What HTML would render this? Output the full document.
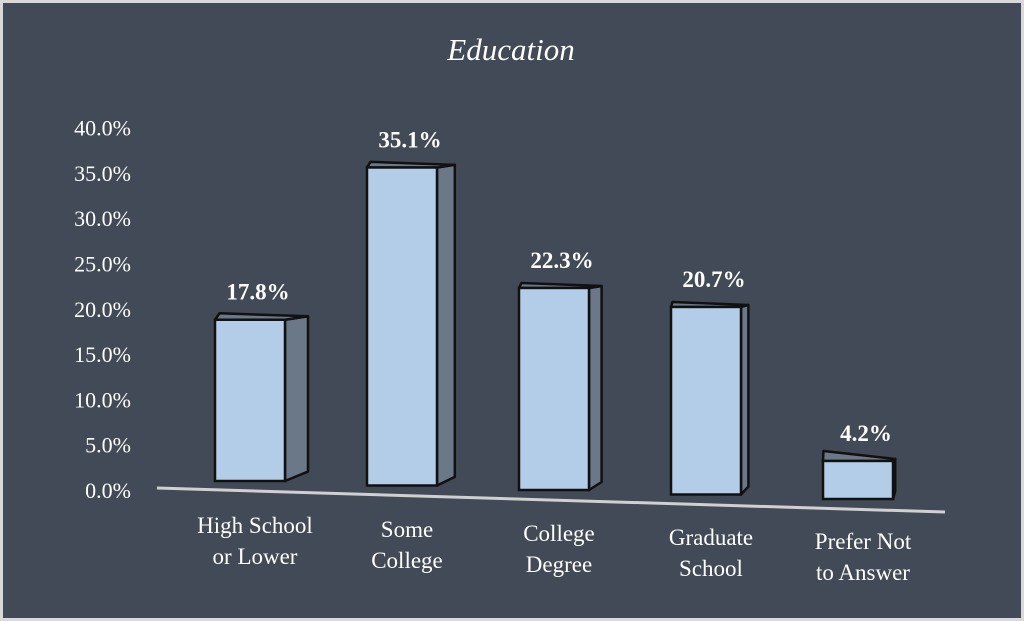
<!DOCTYPE html>
<html><head><meta charset="utf-8"><style>
html,body{margin:0;padding:0;background:#d9d9d9;}
svg{display:block;}
text{font-family:"Liberation Serif",serif;fill:#fff;}
</style></head><body>
<svg width="1024" height="621" viewBox="0 0 1024 621">
<rect x="3" y="3" width="1018" height="615" fill="#414a56"/>
<text x="511" y="60" font-size="31" font-style="italic" text-anchor="middle">Education</text>
<line x1="157" y1="488" x2="945" y2="512" stroke="#d0d0d0" stroke-width="3"/>
<g id="yaxis"></g>
<g id="bars"></g>
<g id="xaxis"></g>
</svg>
<script>
const categories = [["High School","or Lower"],["Some","College"],["College","Degree"],["Graduate","School"],["Prefer Not","to Answer"]];
const values = [17.8, 35.1, 22.3, 20.7, 4.2];
const valueLabels = ["17.8%","35.1%","22.3%","20.7%","4.2%"];
const ticks = [0,5,10,15,20,25,30,35,40];
const tickLabels = ["0.0%","5.0%","10.0%","15.0%","20.0%","25.0%","30.0%","35.0%","40.0%"];

const NS="http://www.w3.org/2000/svg";
const pxPer = 9.06;
function yTick(v){ return 490 - v*pxPer; }
function barBottom(i){ return 481 + i*4.5; }
function barLeft(i){ return 215 + i*152; }
function depth(i){ return 23 - i*5.2; }
function mk(tag,attrs,parent){const e=document.createElementNS(NS,tag);for(const k in attrs)e.setAttribute(k,attrs[k]);parent.appendChild(e);return e;}

const ya=document.getElementById('yaxis');
ticks.forEach((t,i)=>{
  const e=mk('text',{x:131,y:yTick(t)+8,'font-size':22,'text-anchor':'end'},ya);
  
  
  e.textContent=tickLabels[i];
});

const bg=document.getElementById('bars');
const xa=document.getElementById('xaxis');
values.forEach((v,i)=>{
  const x=barLeft(i), w=70, b=barBottom(i), h=v*pxPer, top=b-h, d=depth(i), dy=Math.max(2,d*0.15);
  const g=mk('g',{},bg);
  
  
  const side=mk('polygon',{points:`${x+w},${top} ${x+w+d},${top-dy} ${x+w+d},${b-dy-6} ${x+w},${b}`,fill:'#6b7888',stroke:'#111',"stroke-width":2.5,'stroke-linejoin':'round'},g);
  
  
  const topf=mk('polygon',{points:`${x},${top} ${x+w},${top} ${x+w+d},${top-dy} ${x+d*0.2},${top-dy-(i===4?8:3)}`,fill:'#6b7888',stroke:'#111',"stroke-width":2.5,'stroke-linejoin':'round'},g);
  
  
  const front=mk('rect',{x:x,y:top,width:w,height:h,fill:'#b3cde8',stroke:'#111',"stroke-width":2.5},g);
  
  
  const lbl=mk('text',{x:x+w/2+8,y:top-20,'font-size':23,'font-weight':'bold','text-anchor':'middle'},g);
  
  
  lbl.textContent=valueLabels[i];
  const cx=x+w/2+5;
  categories[i].forEach((line,j)=>{
    const t=mk('text',{x:cx,y:533+i*4+j*31,'font-size':23,'text-anchor':'middle'},xa);
    
    
    t.textContent=line;
  });
});
</script>
</body></html>
